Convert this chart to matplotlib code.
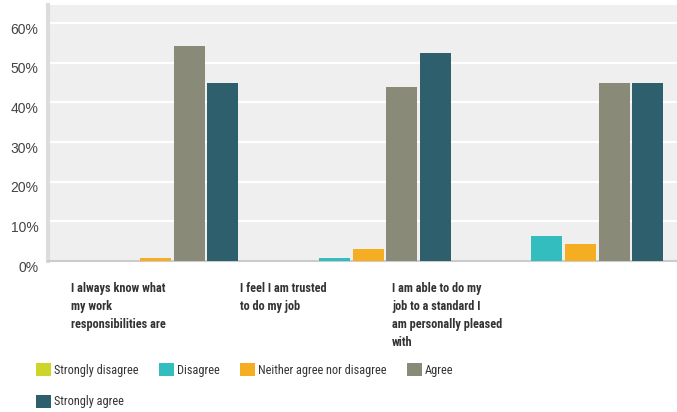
import numpy as np
import matplotlib.pyplot as plt
from matplotlib.patches import Patch
from matplotlib.transforms import ScaledTranslation

plt.rcParams['font.family'] = ['Liberation Sans', 'DejaVu Sans']
narrow = ['DejaVu Sans Condensed', 'Roboto Condensed', 'Liberation Sans Narrow', 'Roboto']

questions = ["I always know what\nmy work\nresponsibilities are",
             "I feel I am trusted\nto do my job",
             "I am able to do my\njob to a standard I\nam personally pleased\nwith"]
answers = ["Strongly disagree", "Disagree", "Neither agree nor disagree", "Agree", "Strongly agree"]
colors = ["#cdd42a", "#33bdbf", "#f5ae21", "#8a8a78", "#2e5f6c"]

# percent per answer, one value per question
strongly_disagree = [0, 0, 0]
disagree = [0, 0.8, 6.3]
neither = [0.8, 3.1, 4.2]
agree = [54.3, 44.0, 45.0]
strongly_agree = [45.0, 52.4, 45.0]
values = [strongly_disagree, disagree, neither, agree, strongly_agree]

fig = plt.figure(figsize=(6.77, 4.12), dpi=100)
ax = fig.add_axes([0.0709, 0.3665, 0.9291, 0.6215])
ax.set_facecolor("#efefef")

x = np.arange(len(questions))
step = 0.158
for i, (vals, c) in enumerate(zip(values, colors)):
    ax.bar(x + (i - 2) * step, vals, width=0.146, color=c, zorder=3)

ax.set_xlim(-0.506, 2.454)
ax.set_ylim(0, 64.6)
ax.set_yticks(range(0, 61, 10))
ax.set_yticklabels([f"{v}%" for v in range(0, 61, 10)], fontsize=10, color="#444444")
ax.yaxis.grid(True, color="white", linewidth=1.6, zorder=1)
ax.tick_params(axis='y', length=0, pad=7)
for lab in ax.get_yticklabels():
    lab.set_transform(lab.get_transform() + ScaledTranslation(0, -0.05, fig.dpi_scale_trans))
ax.set_xticks([])
for s in ["top", "right"]:
    ax.spines[s].set_visible(False)
ax.spines["left"].set_color("#dcdcdc")
ax.spines["left"].set_linewidth(3)
ax.spines["bottom"].set_color("#cccccc")
ax.spines["bottom"].set_linewidth(1.5)

label_x = [0.105, 0.3545, 0.579]
for lx, q in zip(label_x, questions):
    fig.text(lx, 0.316, q, ha="left", va="top", fontsize=8.8, fontweight="bold",
             color="#333333", linespacing=1.5, family=narrow)

# column-major order so "Strongly agree" sits under "Strongly disagree"
order = [0, 4, 1, 2, 3]
handles = [Patch(facecolor=colors[i], edgecolor="none") for i in order]
fig.legend(handles, [answers[i] for i in order], ncol=4, loc="upper left",
           bbox_to_anchor=(0.053, 0.118), bbox_transform=fig.transFigure,
           frameon=False, prop={'family': narrow, 'size': 8.8},
           handlelength=1.25, handleheight=1.25, handletextpad=0.2,
           columnspacing=1.7, labelspacing=1.45, labelcolor="#333333",
           borderaxespad=0, borderpad=0)

fig.savefig("out.png", dpi=100)
